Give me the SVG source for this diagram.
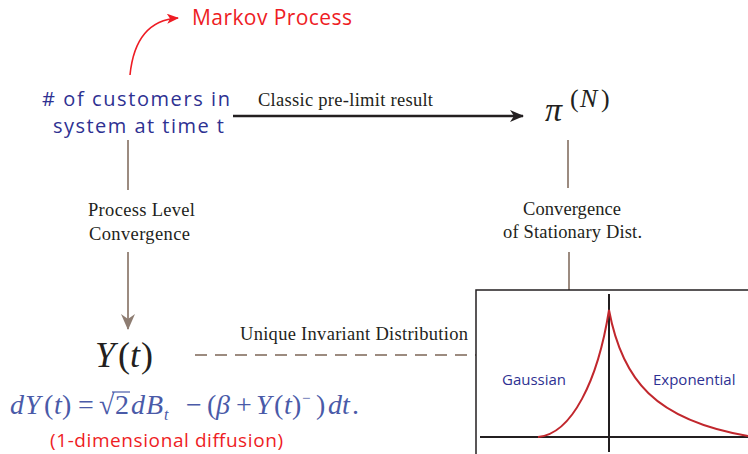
<svg xmlns="http://www.w3.org/2000/svg" width="748" height="454" viewBox="0 0 748 454">
<style>
.comic{font-family:"Open Sans","Liberation Sans",sans-serif;}
.blue{fill:#2e3192;}
.red{fill:#ee1c24;}
.tm{font-family:"Liberation Serif",serif;font-size:18.5px;fill:#231f20;}
.math{font-family:"Liberation Serif",serif;fill:#4a5aa8;font-size:28px;}
.it{font-style:italic;}
.brown{stroke:#9c8b80;stroke-width:2;fill:none;}
</style>
<defs>
<marker id="blk" viewBox="0 0 14 12" refX="13" refY="6" markerWidth="14" markerHeight="12" markerUnits="userSpaceOnUse" orient="auto">
<path d="M0,0 L14,6 L0,12 L4,6 Z" fill="#231f20"/>
</marker>
<marker id="brn" viewBox="0 0 16 14" refX="15" refY="7" markerWidth="16" markerHeight="14" markerUnits="userSpaceOnUse" orient="auto">
<path d="M0,0 L16,7 L0,14 L5,7 Z" fill="#8e7d72"/>
</marker>
<marker id="redm" viewBox="0 0 12 10" refX="11" refY="5" markerWidth="12" markerHeight="10" markerUnits="userSpaceOnUse" orient="auto">
<path d="M0,0 L12,5 L0,10 L3,5 Z" fill="#ee1c24"/>
</marker>
</defs>

<g id="connectors">
<path d="M130,75 C133,45 145,20 178,18" fill="none" stroke="#ee1c24" stroke-width="1.6" marker-end="url(#redm)"/>
<line x1="233" y1="116" x2="523" y2="116" stroke="#231f20" stroke-width="2.5" marker-end="url(#blk)"/>
<text class="tm" x="258" y="106" textLength="175">Classic pre-limit result</text>
<line class="brown" x1="128" y1="140" x2="128" y2="190"/>
<line class="brown" x1="128" y1="252" x2="128" y2="329" marker-end="url(#brn)"/>
<text class="tm" x="88" y="216" textLength="107">Process Level</text>
<text class="tm" x="89" y="240" textLength="101">Convergence</text>
<line class="brown" x1="568" y1="140" x2="568" y2="188"/>
<line class="brown" x1="569" y1="252" x2="569" y2="290"/>
<text class="tm" x="523" y="215" textLength="98">Convergence</text>
<text class="tm" x="503" y="238" textLength="139">of Stationary Dist.</text>
<line x1="195" y1="355" x2="476" y2="355" stroke="#9c8b80" stroke-width="2" stroke-dasharray="12,8"/>
<text class="tm" x="240" y="340" textLength="228">Unique Invariant Distribution</text>
</g>

<g id="markov">
<text class="comic red" x="192" y="25" font-size="21" textLength="160">Markov Process</text>
</g>

<g id="customers">
<text class="comic blue" x="42" y="106" font-size="20" textLength="188"># of customers in</text>
<text class="comic blue" x="53" y="133" font-size="20" textLength="171">system at time t</text>
</g>

<g id="pi">
<text x="545" y="121" font-family="Liberation Serif,serif" font-style="italic" font-size="34" fill="#231f20">π</text>
<text y="107" font-family="Liberation Serif,serif" font-size="26" fill="#231f20"><tspan x="570">(</tspan><tspan x="580" font-style="italic">N</tspan><tspan x="601">)</tspan></text>
</g>

<g id="Y">
<text y="367" font-family="Liberation Serif,serif" font-size="36" fill="#231f20"><tspan x="95" font-style="italic">Y</tspan><tspan x="118">(</tspan><tspan x="130" font-style="italic">t</tspan><tspan x="141">)</tspan></text>
</g>

<g id="sde">
<text class="math" y="414"><tspan class="it" x="10 25">dY</tspan><tspan x="44">(</tspan><tspan class="it" x="54">t</tspan><tspan x="62">)</tspan><tspan x="78">=</tspan><tspan x="99 115">√2</tspan><tspan class="it" x="131 146">dB</tspan><tspan class="it" x="164" dy="6" font-size="16">t</tspan><tspan x="186" dy="-6">−</tspan><tspan x="207">(</tspan><tspan class="it" x="216">β</tspan><tspan x="236">+</tspan><tspan class="it" x="256">Y</tspan><tspan x="274">(</tspan><tspan class="it" x="284">t</tspan><tspan x="292">)</tspan><tspan x="302" dy="-11" font-size="15">−</tspan><tspan x="316" dy="11">)</tspan><tspan class="it" x="328 342">dt</tspan><tspan x="352">.</tspan></text>
<line x1="112" y1="392" x2="130" y2="392" stroke="#4a5aa8" stroke-width="1.2"/>
<text class="comic red" x="50" y="447" font-size="19" textLength="233">(1-dimensional diffusion)</text>
</g>

<g id="distribution">
<rect x="476" y="290" width="280" height="170" fill="#fff" stroke="#231f20" stroke-width="1.5"/>
<line x1="609" y1="294" x2="609" y2="452" stroke="#231f20" stroke-width="2"/>
<line x1="480" y1="437" x2="748" y2="437" stroke="#231f20" stroke-width="2"/>
<path d="M538,437 C572,434 598,380 609,310 C622,380 655,420 748,436" fill="none" stroke="#c1272d" stroke-width="2"/>
<text class="comic blue" x="502" y="385" font-size="15">Gaussian</text>
<text class="comic blue" x="653" y="385" font-size="15">Exponential</text>
</g>
</svg>
